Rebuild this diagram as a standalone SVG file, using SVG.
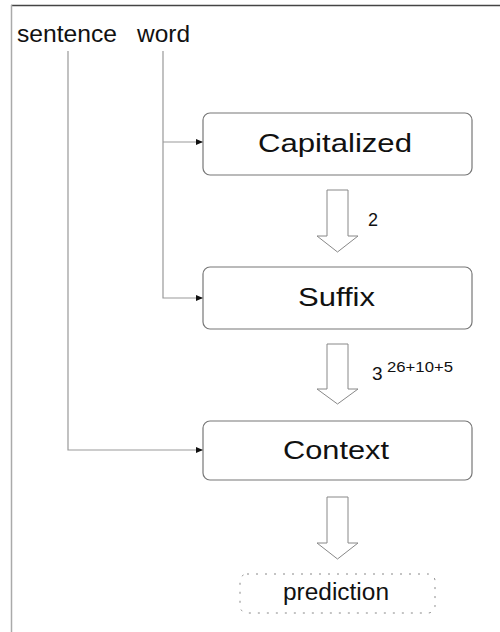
<svg xmlns="http://www.w3.org/2000/svg" width="500" height="632" viewBox="0 0 500 632">
  <style>
    .lbl { font-family: "Liberation Sans", Arial, sans-serif; fill: #111; }
    .box { fill: #fff; stroke: #777; stroke-width: 1.2; }
    .pred { fill: #fff; stroke: #888; stroke-width: 1; stroke-dasharray: 2 7; }
    .conn { fill: none; stroke: #999; stroke-width: 1.2; }
    .blk { fill: #fff; stroke: #888; stroke-width: 1; }
  </style>
  <defs>
    <marker id="ah" markerWidth="8" markerHeight="8" refX="7" refY="4" orient="auto" markerUnits="userSpaceOnUse">
      <path d="M0,1 L7,4 L0,7 Z" fill="#111"/>
    </marker>
  </defs>
  <rect x="0" y="0" width="500" height="632" fill="#fff"/>
  <g id="frame">
    <line x1="11" y1="5.5" x2="500" y2="5.5" stroke="#444" stroke-width="1.5"/>
    <line x1="11.5" y1="5" x2="11.5" y2="632" stroke="#aaa" stroke-width="1.5"/>
  </g>
  <g id="inputs">
    <text class="lbl" x="17" y="42" font-size="24" textLength="100" lengthAdjust="spacingAndGlyphs">sentence</text>
    <text class="lbl" x="137" y="42" font-size="24" textLength="53" lengthAdjust="spacingAndGlyphs">word</text>
  </g>
  <g id="connectors">
    <path class="conn" d="M68,51 V450 H203" marker-end="url(#ah)"/>
    <path class="conn" d="M163,51 V298 H203" marker-end="url(#ah)"/>
    <path class="conn" d="M163,142 H203" marker-end="url(#ah)"/>
    <path class="blk" d="M327,190 H348 V236 H358 L337.5,252 L317,236 H327 Z"/>
    <path class="blk" d="M327,344 H348 V389 H358 L337.5,404 L317,389 H327 Z"/>
    <path class="blk" d="M327,497 H348 V543 H358 L337.5,559 L317,543 H327 Z"/>
    <text class="lbl" x="368" y="226" font-size="18">2</text>
    <text class="lbl" x="372" y="380" font-size="19">3</text>
    <text class="lbl" x="387" y="372" font-size="14" textLength="66" lengthAdjust="spacingAndGlyphs">26+10+5</text>
  </g>
  <g id="capitalized">
    <rect class="box" x="203" y="113" width="269" height="62" rx="7"/>
    <text class="lbl" x="258" y="152" font-size="26" textLength="154" lengthAdjust="spacingAndGlyphs">Capitalized</text>
  </g>
  <g id="suffix">
    <rect class="box" x="203" y="267" width="269" height="62" rx="7"/>
    <text class="lbl" x="298" y="306" font-size="26" textLength="77" lengthAdjust="spacingAndGlyphs">Suffix</text>
  </g>
  <g id="context">
    <rect class="box" x="203" y="421" width="269" height="59" rx="7"/>
    <text class="lbl" x="283" y="459" font-size="26" textLength="106" lengthAdjust="spacingAndGlyphs">Context</text>
  </g>
  <g id="prediction">
    <rect class="pred" x="240" y="574" width="195" height="39" rx="7"/>
    <text class="lbl" x="283" y="600" font-size="23" textLength="106" lengthAdjust="spacingAndGlyphs">prediction</text>
  </g>
</svg>
